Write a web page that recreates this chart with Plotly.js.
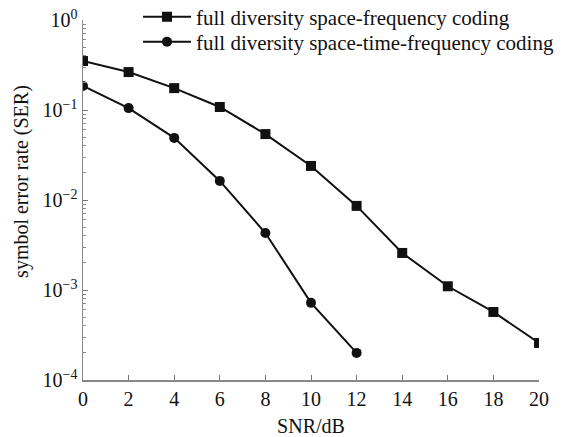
<!DOCTYPE html>
<html><head><meta charset="utf-8">
<script src="https://cdn.plot.ly/plotly-3.0.1.min.js"></script>
<style>html,body{margin:0;padding:0;background:#fff}</style>
</head><body><div id="chart" style="width:571px;height:437px"></div>
<script>
const snrSF = [0,2,4,6,8,10,12,14,16,18,20];
const serSF = [0.35,0.264,0.175,0.108,0.054,0.0239,0.0086,0.00258,0.0011,0.00057,0.000258];
const snrSTF = [0,2,4,6,8,10,12];
const serSTF = [0.185,0.105,0.049,0.0163,0.0043,0.00072,0.0002];
const nameSF = 'full diversity space-frequency coding';
const nameSTF = 'full diversity space-time-frequency coding';
const xTicks = [0,2,4,6,8,10,12,14,16,18,20];
const yTickVals = [1e-4,1e-3,1e-2,1e-1,1];
const yTickText = ['10<sup>−4</sup>','10<sup>−3</sup>','10<sup>−2</sup>','10<sup>−1</sup>','10<sup>0</sup>'];
const yMinorVals = [
  2e-4,3e-4,4e-4,5e-4,6e-4,7e-4,8e-4,9e-4,
  2e-3,3e-3,4e-3,5e-3,6e-3,7e-3,8e-3,9e-3,
  2e-2,3e-2,4e-2,5e-2,6e-2,7e-2,8e-2,9e-2,
  0.2,0.3,0.4,0.5,0.6,0.7,0.8,0.9];
const yTitle = 'symbol error rate (SER)';
const xTitle = 'SNR/dB';

const fam = 'Liberation Serif, Times New Roman, serif';
const legFont = {family:fam, size:21, color:'#111'};
const data = [
  {x:snrSF, y:serSF, name:nameSF, mode:'lines+markers', type:'scatter', legend:'legend',
   line:{color:'#111', width:2}, marker:{symbol:'square', size:10, color:'#111'}},
  {x:snrSTF, y:serSTF, name:nameSTF, mode:'lines+markers', type:'scatter', legend:'legend2',
   line:{color:'#111', width:2}, marker:{symbol:'circle', size:10, color:'#111'}}
];
const layout = {
  width:571, height:437,
  margin:{l:83, r:32, t:20, b:57, autoexpand:false},
  paper_bgcolor:'#fff', plot_bgcolor:'#fff',
  font:{family:fam, size:20, color:'#111'},
  showlegend:true,
  legend:{x:0.1206, y:(380-17)/360, xanchor:'left', yanchor:'middle',
          bgcolor:'rgba(0,0,0,0)', font:legFont, itemwidth:48},
  legend2:{x:0.1206, y:(380-42)/360, xanchor:'left', yanchor:'middle',
           bgcolor:'rgba(0,0,0,0)', font:legFont, itemwidth:48},
  xaxis:{range:[0,20], tickvals:xTicks, ticks:'inside', ticklen:5, tickcolor:'#777',
         showline:true, linecolor:'#888', linewidth:1.5, showgrid:false, zeroline:false,
         title:{text:xTitle, standoff:14, font:{family:fam, size:20, color:'#111'}},
         tickfont:{family:fam, size:20, color:'#111'}},
  yaxis:{type:'log', range:[-4,0], tickvals:yTickVals, ticktext:yTickText,
         ticks:'inside', ticklen:5, tickcolor:'#777',
         minor:{tickmode:'array', tickvals:yMinorVals, ticks:'inside', ticklen:3, tickcolor:'#888', showgrid:false},
         showline:true, linecolor:'#888', linewidth:1.5, showgrid:false, zeroline:false,
         tickfont:{family:fam, size:20, color:'#111'}},
  annotations:[{text:yTitle, xref:'paper', yref:'paper', x:-0.1338, y:0.553,
                xanchor:'center', yanchor:'middle', textangle:-90, showarrow:false,
                font:{family:fam, size:20, color:'#111'}}]
};
Plotly.newPlot('chart', data, layout, {displayModeBar:false, staticPlot:true});
</script></body></html>
